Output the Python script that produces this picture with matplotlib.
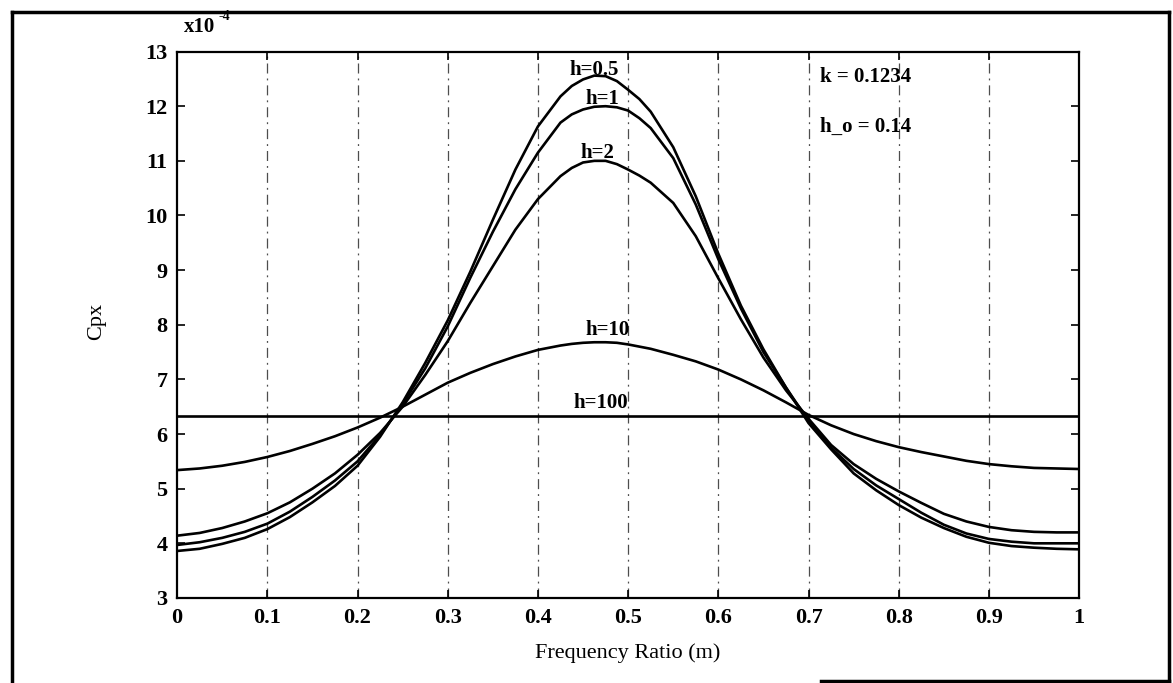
import matplotlib
matplotlib.use("Agg")
import matplotlib.pyplot as plt
from matplotlib.lines import Line2D

plt.rcParams['font.family'] = ['Liberation Serif', 'DejaVu Serif']

# values (units of 1e-4)
m = [0, .025, .05, .075, .1, .125, .15, .175, .2, .225, .25, .275, .3, .325, .35,
     .375, .4, .425, .4375, .45, .4625, .475, .4875, .5, .5125, .525, .55, .575, .6, .625,
     .65, .675, .7, .725, .75, .775, .8, .825, .85, .875, .9, .925, .95, .975, 1.0]
h05 = [3.86, 3.9, 3.99, 4.1, 4.26, 4.48, 4.75, 5.05, 5.42, 5.95, 6.58, 7.3, 8.08, 8.97, 9.92,
       10.84, 11.63, 12.18, 12.37, 12.49, 12.56, 12.55, 12.46, 12.3, 12.13, 11.9, 11.25, 10.35, 9.3, 8.35,
       7.55, 6.85, 6.2, 5.72, 5.28, 4.97, 4.7, 4.47, 4.28, 4.12, 4.01, 3.95, 3.92, 3.9, 3.89]
h1 = [3.97, 4.02, 4.1, 4.21, 4.36, 4.58, 4.85, 5.15, 5.5, 5.98, 6.55, 7.2, 7.97, 8.86, 9.7,
      10.48, 11.15, 11.7, 11.85, 11.94, 11.99, 12.0, 11.98, 11.92, 11.78, 11.6, 11.05, 10.2, 9.2, 8.3,
      7.5, 6.85, 6.24, 5.75, 5.36, 5.06, 4.81, 4.56, 4.34, 4.18, 4.08, 4.03, 4.0, 4.0, 4.0]
h2 = [4.14, 4.19, 4.28, 4.4, 4.55, 4.75, 5.0, 5.28, 5.62, 6.02, 6.5, 7.08, 7.7, 8.4, 9.07,
      9.74, 10.3, 10.72, 10.87, 10.97, 11.0, 11.0, 10.94, 10.84, 10.73, 10.6, 10.23, 9.62, 8.85, 8.1,
      7.4, 6.8, 6.28, 5.8, 5.45, 5.18, 4.95, 4.74, 4.54, 4.4, 4.3, 4.24, 4.21, 4.2, 4.2]
h10 = [5.34, 5.37, 5.42, 5.49, 5.58, 5.69, 5.82, 5.96, 6.12, 6.3, 6.5, 6.72, 6.94, 7.12, 7.28,
       7.42, 7.54, 7.62, 7.65, 7.67, 7.68, 7.68, 7.67, 7.64, 7.6, 7.56, 7.45, 7.33, 7.18, 7.0,
       6.8, 6.58, 6.35, 6.16, 6.0, 5.87, 5.76, 5.67, 5.59, 5.51, 5.45, 5.41, 5.38, 5.37, 5.36]
m100 = [0, 1]
h100 = [6.33, 6.33]

xticks = [0, .1, .2, .3, .4, .5, .6, .7, .8, .9, 1]
xticklabels = ['0', '0.1', '0.2', '0.3', '0.4', '0.5', '0.6', '0.7', '0.8', '0.9', '1']
yticks = list(range(3, 14))

fig = plt.figure(figsize=(11.73, 6.83), dpi=100)
ax = fig.add_axes([0.151, 0.1245, 0.769, 0.8])

for gx in xticks[1:-1]:
    ax.axvline(gx, color='0.3', lw=0.9, ls=(0, (8, 4, 1.5, 4)), zorder=1)

for ys in [h05, h1, h2, h10]:
    ax.plot(m, ys, color='black', lw=1.9, zorder=3)
ax.plot(m100, h100, color='black', lw=1.9, zorder=3)

ax.set_xlim(0, 1)
ax.set_ylim(3, 13)
ax.set_xticks(xticks)
ax.set_xticklabels(xticklabels)
ax.set_yticks(yticks)
ax.tick_params(direction='in', length=6, width=1.2, top=True, right=True,
               labelsize=16, pad=7)
for lab in ax.get_xticklabels() + ax.get_yticklabels():
    lab.set_fontweight('bold')
for sp in ax.spines.values():
    sp.set_linewidth(1.6)

tkw = dict(fontsize=15, fontweight='bold', ha='center', va='center', zorder=4)
ax.text(0.462, 12.67, 'h=0.5', **tkw)
ax.text(0.472, 12.14, 'h=1', **tkw)
ax.text(0.466, 11.15, 'h=2', **tkw)
ax.text(0.477, 7.9, 'h=10', **tkw)
ax.text(0.47, 6.57, 'h=100', **tkw)
ax.text(0.713, 12.54, 'k = 0.1234', fontsize=15, fontweight='bold', va='center')
ax.text(0.713, 11.63, 'h_o = 0.14', fontsize=15, fontweight='bold', va='center')

ax.text(0.007, 1.045, 'x10', transform=ax.transAxes, fontsize=15, fontweight='bold', va='center')
ax.text(0.046, 1.064, '-4', transform=ax.transAxes, fontsize=10, fontweight='bold', va='center')

fig.text(0.082, 0.529, 'Cpx', rotation=90, fontsize=16, ha='center', va='center')
fig.text(0.535, 0.044, 'Frequency Ratio (m)', fontsize=16, ha='center', va='center')

# outer frame of the scanned page
fk = dict(color='black', lw=2.5, transform=fig.transFigure)
fig.add_artist(Line2D([0.0102, 0.0102], [0.0, 0.982], **fk))
fig.add_artist(Line2D([0.0102, 0.997], [0.982, 0.982], **fk))
fig.add_artist(Line2D([0.997, 0.997], [0.0, 0.982], **fk))
fig.add_artist(Line2D([0.70, 0.997], [0.003, 0.003], **fk))

fig.savefig('out.png', dpi=100)
